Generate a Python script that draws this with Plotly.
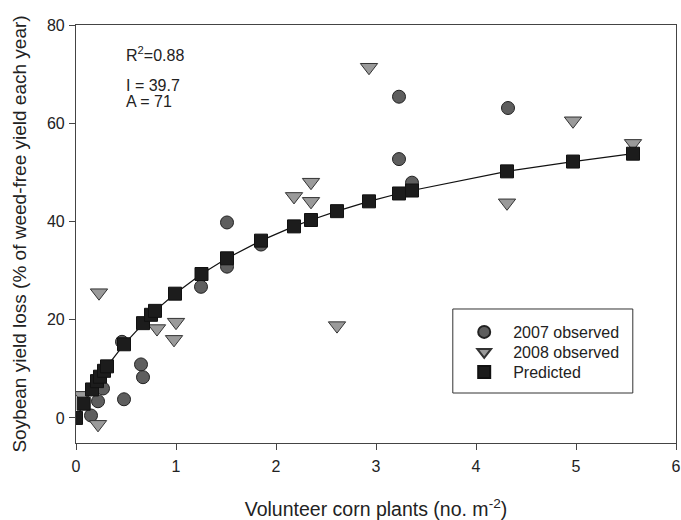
import plotly.graph_objects as go

# 2007 observed
x2007 = [0.15, 0.22, 0.27, 0.48, 0.46, 0.65, 0.67, 1.25, 1.51, 1.51, 1.85, 3.23, 3.23, 3.36, 4.32]
y2007 = [0.5, 3.4, 6.0, 3.8, 15.5, 10.9, 8.3, 26.7, 39.8, 30.8, 35.3, 65.4, 52.7, 47.9, 63.1]

# 2008 observed
x2008 = [0.06, 0.22, 0.23, 0.81, 0.98, 1.0, 2.18, 2.35, 2.35, 2.61, 2.93, 4.31, 4.97, 5.57]
y2008 = [4.6, -1.3, 25.5, 18.2, 16.0, 19.5, 45.1, 48.0, 44.1, 18.8, 71.4, 43.8, 60.5, 55.9]

# Predicted
xpred = [0.0, 0.077, 0.16, 0.21, 0.24, 0.28, 0.31, 0.48, 0.67, 0.75, 0.79, 0.99, 1.255,
         1.51, 1.85, 2.18, 2.35, 2.61, 2.93, 3.23, 3.36, 4.31, 4.97, 5.57]
ypred = [0.0, 2.9, 5.8, 7.5, 8.4, 9.6, 10.5, 15.0, 19.3, 21.0, 21.8, 25.3, 29.3,
         32.5, 36.1, 39.0, 40.3, 42.1, 44.1, 45.7, 46.3, 50.2, 52.2, 53.8]

xticks = [0, 1, 2, 3, 4, 5, 6]
yticks = [0, 20, 40, 60, 80]

font = "Liberation Sans, Arial, sans-serif"

fig = go.Figure()
fig.add_trace(go.Scatter(
    x=xpred, y=ypred, mode="lines", line=dict(color="#111111", width=1.2),
    showlegend=False, hoverinfo="skip"))
fig.add_trace(go.Scatter(
    x=x2007, y=y2007, mode="markers", name="2007 observed", legend="legend",
    marker=dict(symbol="circle", size=13, color="#5e5e5e",
                line=dict(color="#222222", width=1))))
fig.add_trace(go.Scatter(
    x=x2008, y=y2008, mode="markers", name="2008 observed", legend="legend2",
    marker=dict(symbol="triangle-down", size=15, color="#9a9a9a",
                line=dict(color="#333333", width=1))))
fig.add_trace(go.Scatter(
    x=xpred, y=ypred, mode="markers", name="Predicted", legend="legend3",
    marker=dict(symbol="square", size=13, color="#1c1c1c",
                line=dict(color="#111111", width=1))))

leg_common = dict(xanchor="left", yanchor="middle", borderwidth=0,
                  bgcolor="rgba(0,0,0,0)", font=dict(size=16),
                  itemsizing="constant", itemwidth=48)

fig.update_layout(
    width=681, height=520,
    margin=dict(l=76, r=5, t=25, b=77),
    paper_bgcolor="white", plot_bgcolor="white",
    font=dict(family=font, size=16, color="#222222"),
    hovermode=False,
    xaxis=dict(range=[0, 6], tickvals=xticks, ticks="outside", ticklen=6,
               tickcolor="#444444", showline=True, linecolor="#444444", linewidth=1.2,
               mirror=True, showgrid=False, zeroline=False, automargin=False,
               tickfont=dict(size=16), ticklabelstandoff=3,
               ticklabeloverflow="allow",
               title=dict(text="Volunteer corn plants (no. m<sup>-2</sup>)",
                          font=dict(size=19.5), standoff=29)),
    yaxis=dict(range=[-5.1, 80], tickvals=yticks, ticks="outside", ticklen=6,
               tickcolor="#444444", showline=True, linecolor="#444444", linewidth=1.2,
               mirror=True, showgrid=False, zeroline=False, automargin=False,
               tickfont=dict(size=16), ticklabelstandoff=1,
               title=dict(text="Soybean yield loss (% of weed-free yield each year)",
                          font=dict(size=19), standoff=15)),
    legend=dict(x=0.632, y=0.2656, **leg_common),
    legend2=dict(x=0.632, y=0.2177, **leg_common),
    legend3=dict(x=0.632, y=0.1699, **leg_common),
    shapes=[dict(type="rect", xref="paper", yref="paper",
                 x0=0.628, x1=0.928, y0=0.1196, y1=0.3206,
                 line=dict(color="#333333", width=1), fillcolor="rgba(0,0,0,0)")],
    annotations=[
        dict(x=0.08, y=0.93, xref="paper", yref="paper", xanchor="left",
             yanchor="middle", text="R<sup>2</sup>=0.88", showarrow=False,
             font=dict(size=16)),
        dict(x=0.08, y=0.856, xref="paper", yref="paper", xanchor="left",
             yanchor="middle", text="I = 39.7", showarrow=False,
             font=dict(size=16)),
        dict(x=0.08, y=0.818, xref="paper", yref="paper", xanchor="left",
             yanchor="middle", text="A = 71", showarrow=False,
             font=dict(size=16)),
    ],
)

fig.write_html("out.html", config={"displayModeBar": False},
               post_script="document.body.style.margin='0';document.body.style.overflow='hidden';")
